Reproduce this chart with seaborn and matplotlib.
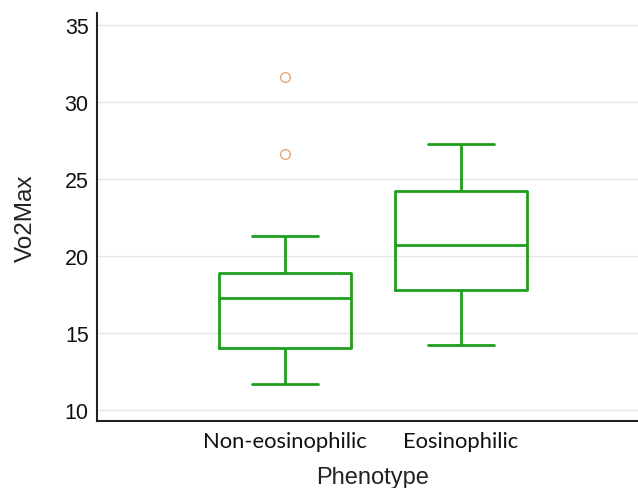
import numpy as np
import pandas as pd
import matplotlib
matplotlib.use("Agg")
import matplotlib.pyplot as plt
import seaborn as sns

non_eos = [11.7, 12.8, 13.5, 14.0, 15.2, 16.4, 17.3, 17.9, 18.4, 18.9, 21.3, 26.6, 31.6]
eos = [14.2, 17.8, 20.7, 24.24, 27.3]
categories = ["Non-eosinophilic", "Eosinophilic"]
y_ticks = [10, 15, 20, 25, 30, 35]

df = pd.DataFrame({
    "Phenotype": [categories[0]] * len(non_eos) + [categories[1]] * len(eos),
    "Vo2Max": non_eos + eos,
})

sns.set_theme(style="white")
plt.rcParams["font.family"] = ["Liberation Sans", "DejaVu Sans"]

fig = plt.figure(figsize=(6.38, 4.89), dpi=100)
ax = fig.add_axes([97 / 638, 1 - 422 / 489, 1 - 97 / 638, (422 - 14) / 489])

green = "#1e9e1e"
sns.boxplot(
    data=df, x="Phenotype", y="Vo2Max", order=categories, ax=ax,
    width=0.755, fill=False, color=green, linewidth=2,
    whis=1.5,
    flierprops=dict(marker="o", markersize=7, markerfacecolor="none",
                    markeredgecolor="#e4a870", markeredgewidth=1.0),
    medianprops=dict(color=green, linewidth=2),
    capprops=dict(color=green, linewidth=2),
    whiskerprops=dict(color=green, linewidth=2),
    boxprops=dict(color=green, linewidth=2),
)

ax.set_xlim(-1.068, 2.006)
ax.set_ylim(9.29, 35.78)
ax.set_yticks(y_ticks)
ax.set_yticklabels([str(t) for t in y_ticks], fontfamily=["Liberation Sans", "DejaVu Sans"])
ax.yaxis.grid(True, color="#e6e6e6", linewidth=1)
ax.set_axisbelow(True)

for s in ["top", "right"]:
    ax.spines[s].set_visible(False)
for s in ["left", "bottom"]:
    ax.spines[s].set_color("#222222")
    ax.spines[s].set_linewidth(1.5)

ax.tick_params(axis="both", direction="in", length=7.5, width=1.2, color="#555555")
ax.tick_params(axis="y", labelsize=15.5, pad=6, labelcolor="#111111")
ax.tick_params(axis="x", labelsize=15.8, pad=7, labelcolor="#111111")
for lab in ax.get_xticklabels():
    lab.set_fontfamily(["Lato", "DejaVu Sans"])

ax.set_xlabel("Phenotype", fontsize=17, color="#222222",
              fontfamily=["Liberation Sans", "DejaVu Sans"])
ax.xaxis.set_label_coords(0.51, -(467 - 422) / 408)
ax.set_ylabel("Vo2Max", fontsize=17.5, color="#222222", labelpad=20,
              fontfamily=["Liberation Sans", "DejaVu Sans"])

fig.savefig("out.png", dpi=100, facecolor="white")
